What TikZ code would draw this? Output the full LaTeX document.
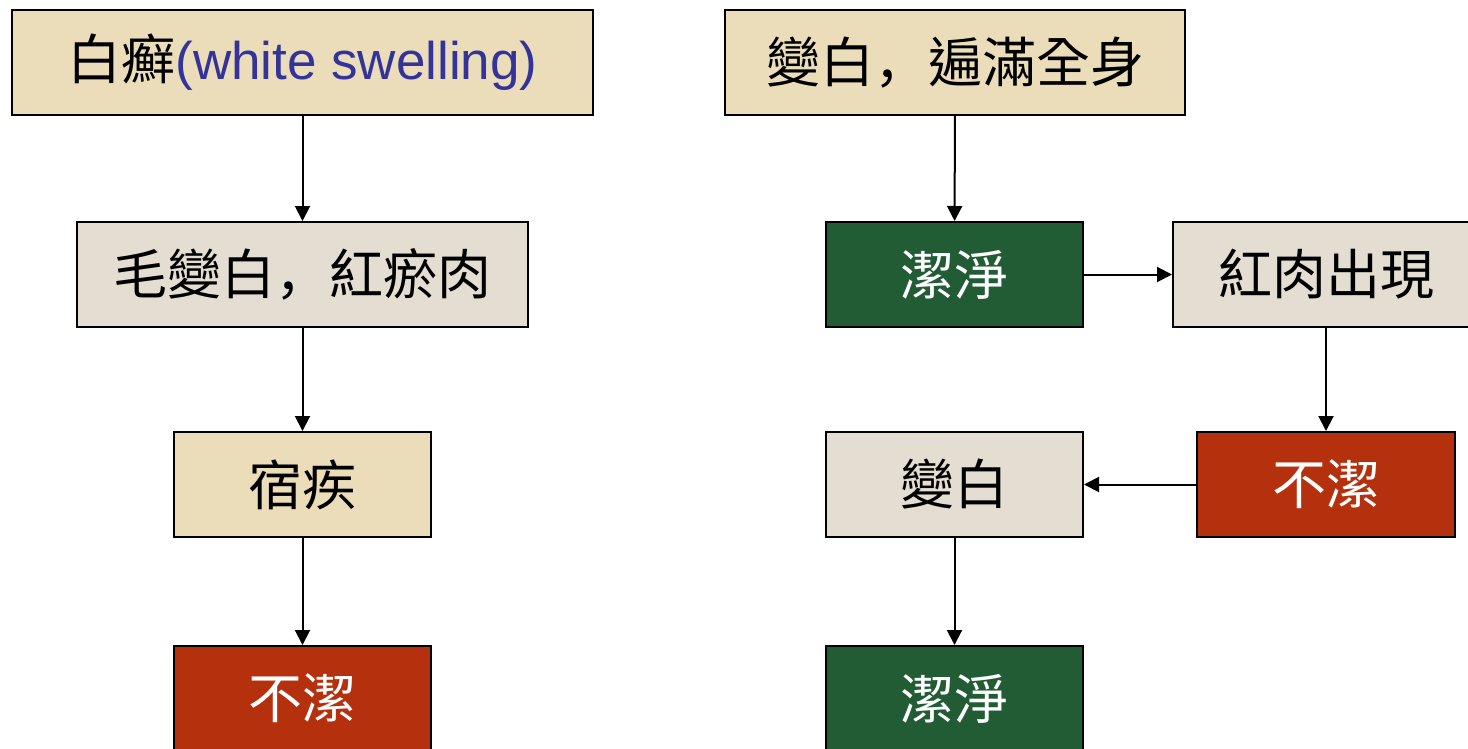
\documentclass[tikz,border=0pt]{standalone}
\usepackage{fontspec}
\setmainfont{Liberation Sans}
\newfontfamily\cjk{Noto Sans CJK TC}
\newfontfamily\cjksc{Noto Sans CJK SC}
\usetikzlibrary{arrows.meta}

\definecolor{tan}{HTML}{EBDDBA}
\definecolor{stone}{HTML}{E4DDD1}
\definecolor{jade}{HTML}{215C34}
\definecolor{rust}{HTML}{B5300C}
\definecolor{engblue}{HTML}{333399}

\newcommand{\fwcomma}{{\cjksc ，}}

\tikzset{
  box/.style={draw=black, line width=2pt, minimum height=105pt, inner sep=0pt,
    font=\fontsize{54}{64}\selectfont\cjk},
  tanbox/.style={box, fill=tan},
  stonebox/.style={box, fill=stone},
  cleanbox/.style={box, fill=jade, text=white},
  uncleanbox/.style={box, fill=rust, text=white},
  flow/.style={line width=2pt, -{Triangle[length=15pt,width=15pt]}}
}

\begin{document}
\begin{tikzpicture}[x=1pt,y=-1pt]
            \useasboundingbox (0,0) rectangle (1468,749);
            \begin{scope}
                % left column
                \node[tanbox, minimum width=581pt] (swelling) at (302.5,62.5)
                    {白癬{\fontsize{53}{64}\selectfont\color{engblue}\rmfamily(white swelling)}};
                \node[stonebox, minimum width=451pt] (hair) at (302.5,274.5) {毛變白\fwcomma 紅瘀肉};
                \node[tanbox, minimum width=257pt] (chronic) at (302.5,484.5) {宿疾};
                \node[uncleanbox, minimum width=257pt] (uncleanL) at (302.5,698.5) {不潔};
                \draw[flow] (swelling) -- (hair);
                \draw[flow] (hair) -- (chronic);
                \draw[flow] (chronic) -- (uncleanL);
            \end{scope}
            \begin{scope}
                % right column
                \node[tanbox, minimum width=460pt] (allwhite) at (955,62.5) {變白\fwcomma 遍滿全身};
                \node[cleanbox, minimum width=257pt] (cleanA) at (954.5,274.5) {潔淨};
                \node[stonebox, minimum width=306pt] (redflesh) at (1326,274.5) {紅肉出現};
                \node[uncleanbox, minimum width=258pt] (uncleanR) at (1326,484.5) {不潔};
                \node[stonebox, minimum width=257pt] (white) at (954.5,484.5) {變白};
                \node[cleanbox, minimum width=257pt] (cleanB) at (954.5,698.5) {潔淨};
                \draw[flow] (allwhite) -- (cleanA);
                \draw[flow] (cleanA) -- (redflesh);
                \draw[flow] (redflesh) -- (uncleanR);
                \draw[flow] (uncleanR) -- (white);
                \draw[flow] (white) -- (cleanB);
            \end{scope}
        \end{tikzpicture}
\end{document}
